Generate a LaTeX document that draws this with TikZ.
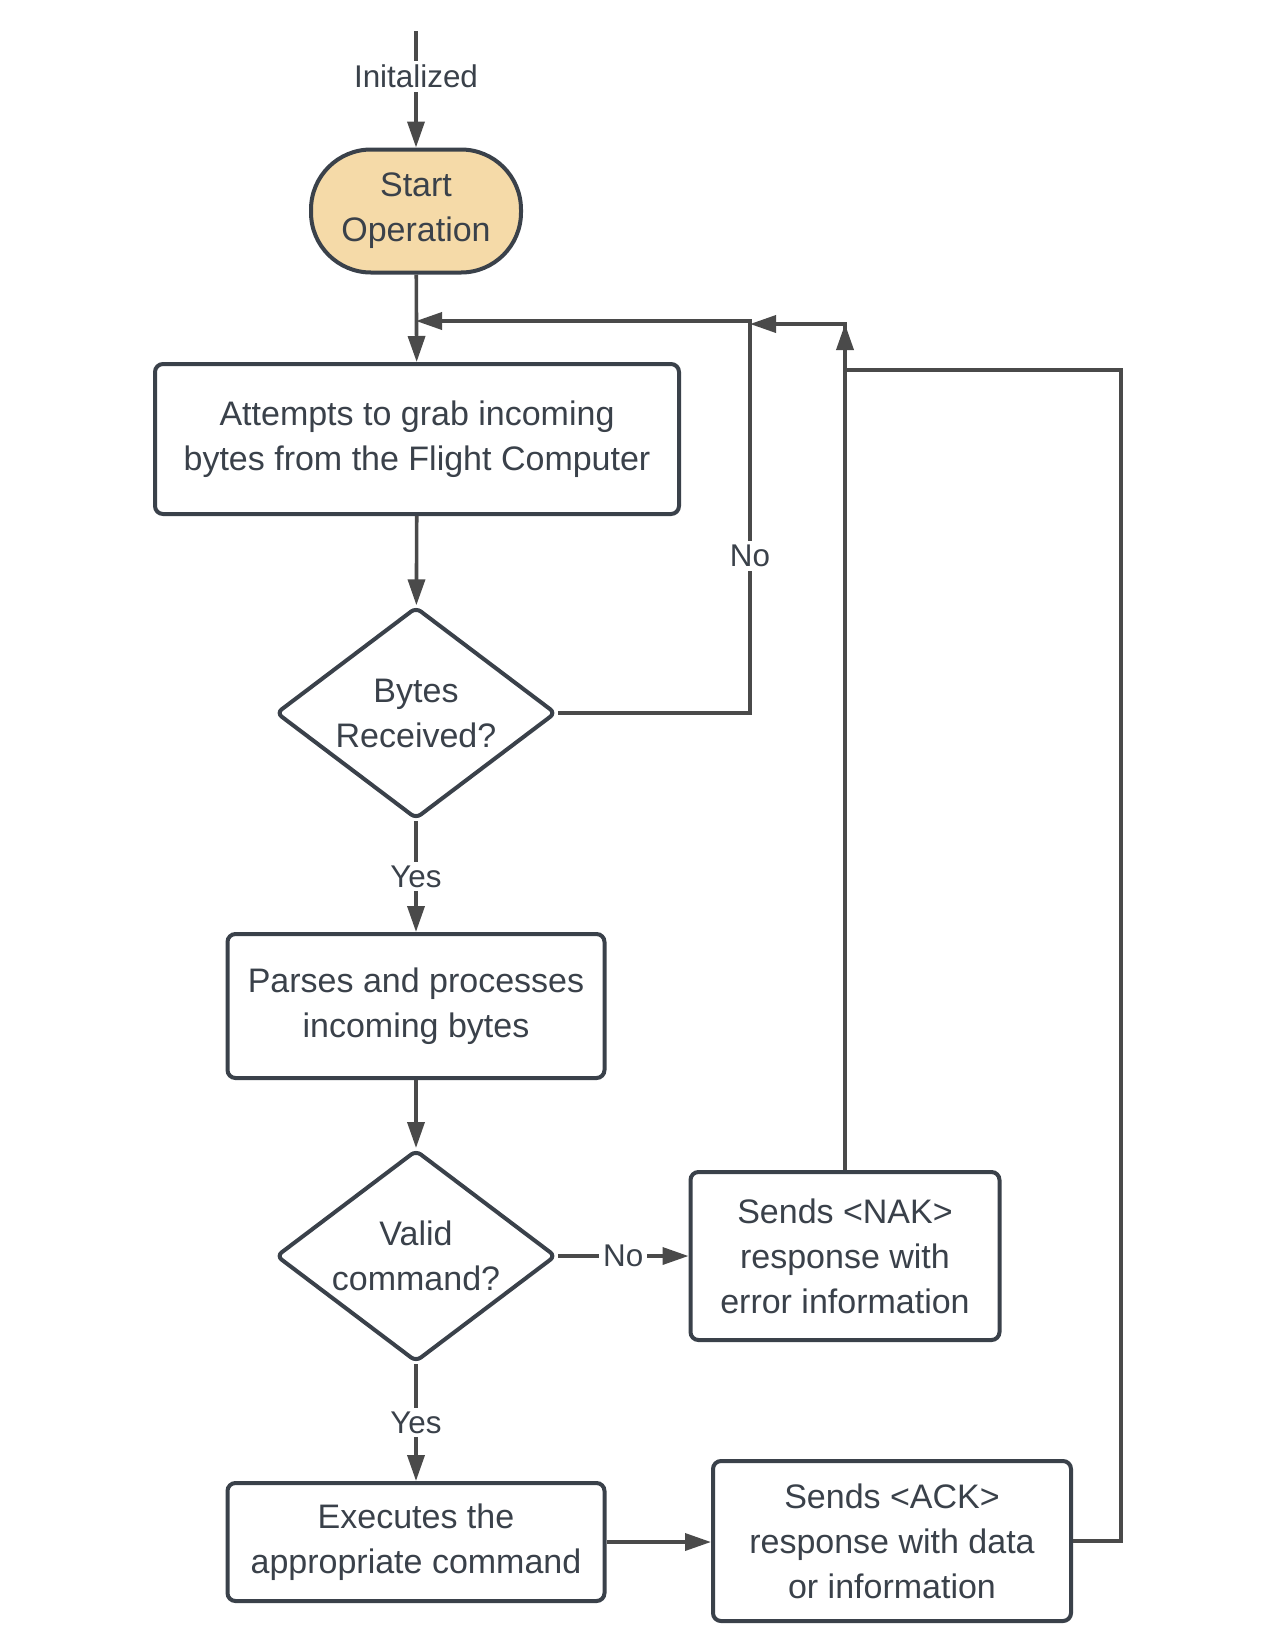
\documentclass[tikz,border=0pt]{standalone}
\usepackage{fontspec}
\setmainfont{Liberation Sans}
\usetikzlibrary{shapes.geometric,arrows.meta}
\definecolor{ink}{RGB}{58,65,74}
\definecolor{wire}{RGB}{74,74,74}
\definecolor{sand}{RGB}{245,218,168}

\begin{document}
\begin{tikzpicture}[x=0.5pt, y=-0.5pt,
    >={Triangle[length=13pt,width=8.5pt]},
    base/.style={draw=ink, line width=2pt, text=ink, align=center,
      font=\fontsize{17pt}{22.5pt}\selectfont},
    terminal/.style={base, fill=sand, rounded corners=30pt},
    process/.style={base, fill=white, rounded corners=4pt},
    decision/.style={base, fill=white, diamond, aspect=1.33, inner sep=0pt, rounded corners=3pt},
    flow/.style={->, draw=wire, line width=1.8pt},
    lbl/.style={fill=white, text=ink, inner sep=2pt, font=\fontsize{15.7pt}{18pt}\selectfont}]
        \useasboundingbox (0,0) rectangle (1275,1650);
        \node[terminal, minimum width=105pt, minimum height=61.5pt] (start) at (416,211) {Start\\Operation};
        \node[process, minimum width=262pt, minimum height=75pt] (grab) at (417,439) {Attempts to grab incoming\\bytes from the Flight Computer};
        \node[decision, minimum width=140pt, minimum height=106pt] (bytes) at (416,713) {Bytes\\Received?};
        \node[process, minimum width=188.5pt, minimum height=72pt] (parse) at (416,1006) {Parses and processes\\incoming bytes};
        \node[decision, minimum width=140pt, minimum height=106pt] (valid) at (416,1256) {Valid\\command?};
        \node[process, minimum width=154.5pt, minimum height=84pt] (nak) at (845,1256) {Sends <NAK>\\response with\\error information};
        \node[process, minimum width=188.5pt, minimum height=59pt] (exec) at (416,1542) {Executes the\\appropriate command};
        \node[process, minimum width=179pt, minimum height=80pt] (ack) at (892,1541) {Sends <ACK>\\response with data\\or information};
        % corners of the return loops
        \coordinate (init) at (416,31);
        \coordinate (retA) at (750,321);
        \coordinate (joinA) at (416,321);
        \coordinate (retB) at (845,324);
        \coordinate (joinB) at (750,324);
        \coordinate (ackR) at (1121,370);
        \coordinate (ackL) at (845,370);
        \draw[flow] (init) -- node[lbl, pos=0.39] {Initalized} (start);
        \draw[flow] (start) -- (grab);
        \draw[flow] (grab) -- (bytes);
        \draw[flow] (bytes.east) -| node[lbl, pos=0.7] {No} (retA) -- (joinA);
        \draw[flow] (bytes) -- node[lbl] {Yes} (parse);
        \draw[flow] (parse) -- (valid);
        \draw[flow] (valid) -- node[lbl] {No} (nak);
        \draw[flow] (valid) -- node[lbl] {Yes} (exec);
        \draw[flow] (exec) -- (exec -| ack.west);
        \draw[flow] (nak.north) -- (retB) -- (joinB);
        \draw[flow] (ack.east) -| (ackR) -- (ackL) -- (retB);
      \end{tikzpicture}
\end{document}
